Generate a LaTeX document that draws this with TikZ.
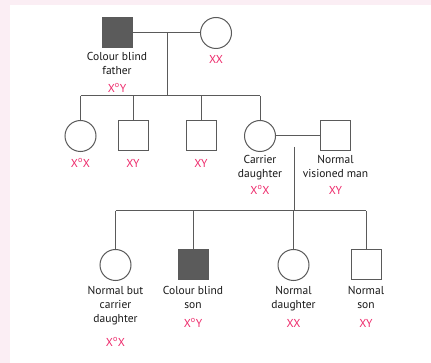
\documentclass[tikz,border=0pt]{standalone}
\usepackage{fontspec}
\setmainfont{PT Sans}
\definecolor{bgpink}{HTML}{FBEEF4}
\definecolor{gpink}{HTML}{EE2A6B}
\definecolor{lgrey}{HTML}{5A5A5A}
\definecolor{fillg}{HTML}{5B5B5B}
\begin{document}
\begin{tikzpicture}[x=1pt,y=-1pt,
  line width=1pt,
  male/.style={draw=lgrey,rectangle,minimum size=30pt,inner sep=0pt},
  female/.style={draw=lgrey,circle,minimum size=31pt,inner sep=0pt},
  affected/.style={fill=fillg},
  lbl/.style={font=\fontsize{11.5}{14}\selectfont,text=black!90,align=center,inner sep=0pt},
  geno/.style={font=\fontsize{11.5}{12}\selectfont,text=gpink,inner sep=0pt},
  conn/.style={draw=lgrey}]
\fill[bgpink] (0,0) rectangle (431,363);
\fill[white] (10,5) rectangle (431,363);
\useasboundingbox (0,0) rectangle (431,363);
% generation 1
\node[male,affected] (f) at (117,33) {};
\node[female] (m) at (216,33) {};
\node[lbl,anchor=north] (fl) at (117,52) {Colour blind\\father};
\node[geno] (fg) at (117,88) {X\textsuperscript{o}Y};
\node[geno] (mg) at (216,59) {XX};
\coordinate (c1) at (167,33);
\coordinate (c1d) at (167,96);
\draw[conn] (f.east) -- (m.west);
\draw[conn] (c1) -- (c1d);
% generation 2
\node[female] (d1) at (80.5,136) {};
\node[male] (s1) at (133,136) {};
\node[male] (s2) at (201,136) {};
\node[female] (d2) at (260,136) {};
\node[male] (h) at (335.5,136) {};
\coordinate (g2a) at (80.5,96);
\coordinate (g2b) at (133,96);
\coordinate (g2c) at (201,96);
\coordinate (g2d) at (260,96);
\draw[conn] (g2a) -- (g2d);
\draw[conn] (g2a) -- (d1.north);
\draw[conn] (g2b) -- (s1.north);
\draw[conn] (g2c) -- (s2.north);
\draw[conn] (g2d) -- (d2.north);
\draw[conn] (d2.east) -- (h.west);
\node[geno] (d1g) at (80.5,163) {X\textsuperscript{o}X};
\node[geno] (s1g) at (133,163) {XY};
\node[geno] (s2g) at (201,163) {XY};
\node[lbl,anchor=north] (d2l) at (260,155) {Carrier\\daughter};
\node[geno] (d2g) at (260,190) {X\textsuperscript{o}X};
\node[lbl,anchor=north] (hl) at (335.5,155) {Normal\\visioned man};
\node[geno] (hg) at (335.5,190) {XY};
\coordinate (c2) at (294,147);
\coordinate (c2d) at (294,211);
\draw[conn] (c2) -- (c2d);
% generation 3
\node[female] (e1) at (115.5,265) {};
\node[male,affected] (e2) at (193,265) {};
\node[female] (e3) at (293.5,265) {};
\node[male] (e4) at (366,265) {};
\coordinate (g3a) at (115.5,211);
\coordinate (g3b) at (193,211);
\coordinate (g3c) at (293.5,211);
\coordinate (g3d) at (366,211);
\draw[conn] (g3a) -- (g3d);
\draw[conn] (g3a) -- (e1.north);
\draw[conn] (g3b) -- (e2.north);
\draw[conn] (g3c) -- (e3.north);
\draw[conn] (g3d) -- (e4.north);
\node[lbl,anchor=north] (e1l) at (115.5,286) {Normal but\\carrier\\daughter};
\node[geno] (e1g) at (115.5,342) {X\textsuperscript{o}X};
\node[lbl,anchor=north] (e2l) at (193,286) {Colour blind\\son};
\node[geno] (e2g) at (193,323) {X\textsuperscript{o}Y};
\node[lbl,anchor=north] (e3l) at (293.5,286) {Normal\\daughter};
\node[geno] (e3g) at (293.5,323) {XX};
\node[lbl,anchor=north] (e4l) at (366,286) {Normal\\son};
\node[geno] (e4g) at (366,323) {XY};
\end{tikzpicture}
\end{document}
